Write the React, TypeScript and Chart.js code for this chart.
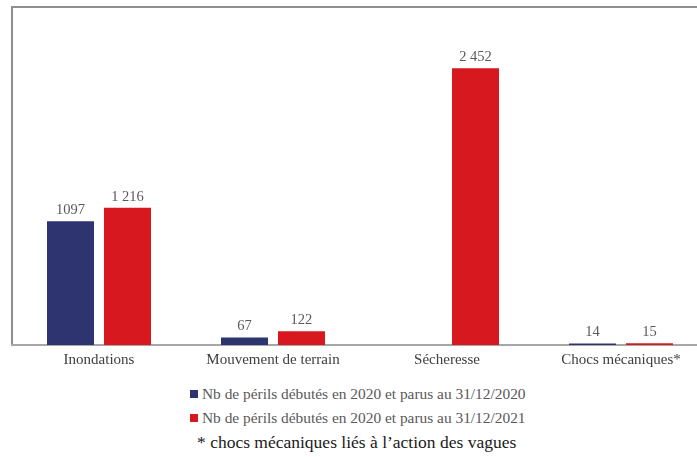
import React, { useEffect, useRef } from "react";
import { Chart, registerables } from "chart.js";

Chart.register(...registerables);

const categories = ["Inondations", "Mouvement de terrain", "Sécheresse", "Chocs mécaniques*"];
const values2020: (number | null)[] = [1097, 67, null, 14];
const values2021: (number | null)[] = [1216, 122, 2452, 15];
const labels2020 = ["1097", "67", "", "14"];
const labels2021 = ["1 216", "122", "2 452", "15"];
const seriesNames = [
  "Nb de périls débutés en 2020 et parus au 31/12/2020",
  "Nb de périls débutés en 2020 et parus au 31/12/2021",
];
const footnote = "* chocs mécaniques liés à l’action des vagues";
const yMax = 2800;

const BLUE = "#2e3470";
const RED = "#d7181f";
const FONT = "\"Liberation Serif\", serif";

const valueLabelPlugin = {
  id: "valueLabels",
  afterDatasetsDraw(chart: any) {
    const ctx = chart.ctx;
    const texts = [labels2020, labels2021];
    ctx.save();
    ctx.font = `14.5px ${FONT}`;
    ctx.fillStyle = "#595959";
    ctx.textAlign = "center";
    ctx.textBaseline = "middle";
    chart.data.datasets.forEach((ds: any, di: number) => {
      const meta = chart.getDatasetMeta(di);
      meta.data.forEach((el: any, i: number) => {
        const v = ds.data[i];
        if (v === null || v === undefined) return;
        const t = texts[di][i];
        if (!t) return;
        ctx.fillText(t, el.x, el.y - 11);
      });
    });
    ctx.restore();
  },
};

export default function App() {
  const ref = useRef<HTMLCanvasElement | null>(null);
  useEffect(() => {
    if (!ref.current) return;
    const chart = new Chart(ref.current, {
      type: "bar",
      data: {
        labels: categories,
        datasets: [
          { label: seriesNames[0], data: values2020, backgroundColor: BLUE },
          { label: seriesNames[1], data: values2021, backgroundColor: RED },
        ],
      },
      options: {
        responsive: false,
        animation: false,
        devicePixelRatio: 1,
        layout: { padding: { left: 12, top: 29, right: 0, bottom: 0 } },
        datasets: { bar: { categoryPercentage: 0.655, barPercentage: 0.825 } } as any,
        plugins: { legend: { display: false }, tooltip: { enabled: false } },
        scales: {
          x: {
            grid: { display: false, drawTicks: false, tickLength: 0 },
            border: { display: true, color: "#a6a6a6", width: 2 },
            ticks: { font: { family: FONT, size: 15 }, color: "#404040", padding: 6, maxRotation: 0 },
          },
          y: { display: false, min: 0, max: yMax },
        },
      },
      plugins: [valueLabelPlugin],
    });
    return () => chart.destroy();
  }, []);

  return (
    <div style={{ position: "fixed", left: 0, top: 0, width: 697, height: 457, overflow: "hidden", background: "#fff" }}>
      <div
        style={{
          position: "absolute",
          left: 11,
          top: 6,
          width: 720,
          height: 337,
          borderLeft: "2px solid #8f8f8f",
          borderTop: "2px solid #8f8f8f",
        }}
      />
      <canvas ref={ref} width={708} height={375} style={{ position: "absolute", left: 0, top: 0, width: 708, height: 375 }} />
      {seriesNames.map((name, i) => (
        <div
          key={name}
          style={{
            position: "absolute",
            left: 190,
            top: i === 0 ? 385 : 409,
            height: 18,
            display: "flex",
            alignItems: "center",
            fontFamily: FONT,
            fontSize: 15.4,
            color: "#595959",
            whiteSpace: "nowrap",
          }}
        >
          <span style={{ display: "inline-block", width: 8, height: 8, background: i === 0 ? BLUE : RED, marginRight: 4 }} />
          <span>{name}</span>
        </div>
      ))}
      <div
        style={{
          position: "absolute",
          left: 197,
          top: 432,
          height: 20,
          lineHeight: "20px",
          fontFamily: FONT,
          fontSize: 17.5,
          color: "#1a1a1a",
          whiteSpace: "nowrap",
        }}
      >
        {footnote}
      </div>
    </div>
  );
}
